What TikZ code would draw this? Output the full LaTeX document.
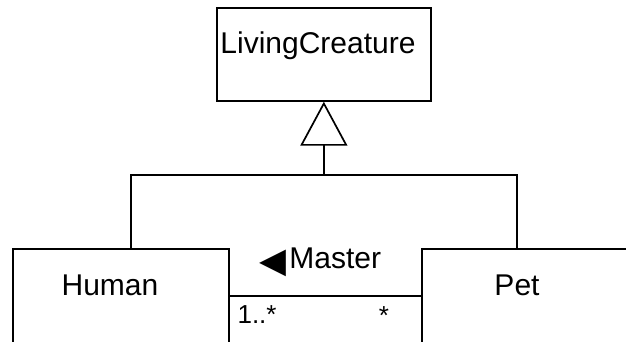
\documentclass[tikz,border=0pt]{standalone}
\usepackage{fontspec}
\setmainfont{Liberation Sans}
\newfontfamily\symfont{DejaVu Sans}
\usetikzlibrary{arrows.meta}

\begin{document}
\begin{tikzpicture}[x=1pt, y=-1pt,
    %Option for the class diagram
    line width=1.7pt, %
    font=\fontsize{30}{36}\selectfont,%
    classbox/.style={draw, rectangle, inner sep=0pt, anchor=north west, minimum width=#1},
    classname/.style={inner sep=0pt, anchor=base},
    mult/.style={inner sep=0pt, font=\fontsize{26}{30}\selectfont},
    inherit/.style={-{Triangle[open, length=44pt, width=47pt]}},
]
    % Frame
    \useasboundingbox (0,0) rectangle (626,341);
    \clip (0,0) rectangle (626,341);

    % Classes
    \node[classbox=214pt, minimum height=93pt]  (creature) at (216,7)   {};
    \node[classbox=216pt, minimum height=120pt] (human)    at (12,248)  {};
    \node[classbox=216pt, minimum height=120pt] (pet)      at (421,248) {};

    \node[classname] (creaturename) at ([xshift=102pt, yshift=-46pt]creature.north west) {LivingCreature};
    \node[classname] (humanname)    at ([xshift=98pt,  yshift=-47pt]human.north west)    {Human};
    \node[classname] (petname)      at ([xshift=96pt,  yshift=-47pt]pet.north west)      {Pet};

    %Generalization
    \coordinate (split)   at ([yshift=-73pt]creature.south);
    \coordinate (humanup) at ([xshift=-193pt]split);
    \coordinate (petup)   at ([xshift=193pt]split);
    \draw[inherit] (split) -- (creature.south);
    \draw (human.north -| humanup) -- (humanup) -- (petup) -- (pet.north -| petup);

    %Association
    \coordinate (assocstart) at ([yshift=-48pt]human.north east);
    \coordinate (assocend)   at (assocstart -| pet.west);
    \draw (assocstart) -- (assocend)
        node [midway, anchor=base, inner sep=0pt, xshift=-5pt, yshift=28pt] (role)
            {{\symfont\fontsize{35}{40}\selectfont\raisebox{-4pt}{◀}}\kern3pt Master};
    \node[mult, anchor=base west] (humanmult) at ([xshift=7pt, yshift=-27pt]assocstart) {1..*};
    \node[mult, anchor=base]      (petmult)   at ([xshift=-37pt, yshift=-28pt]assocend) {*};
\end{tikzpicture}
\end{document}
